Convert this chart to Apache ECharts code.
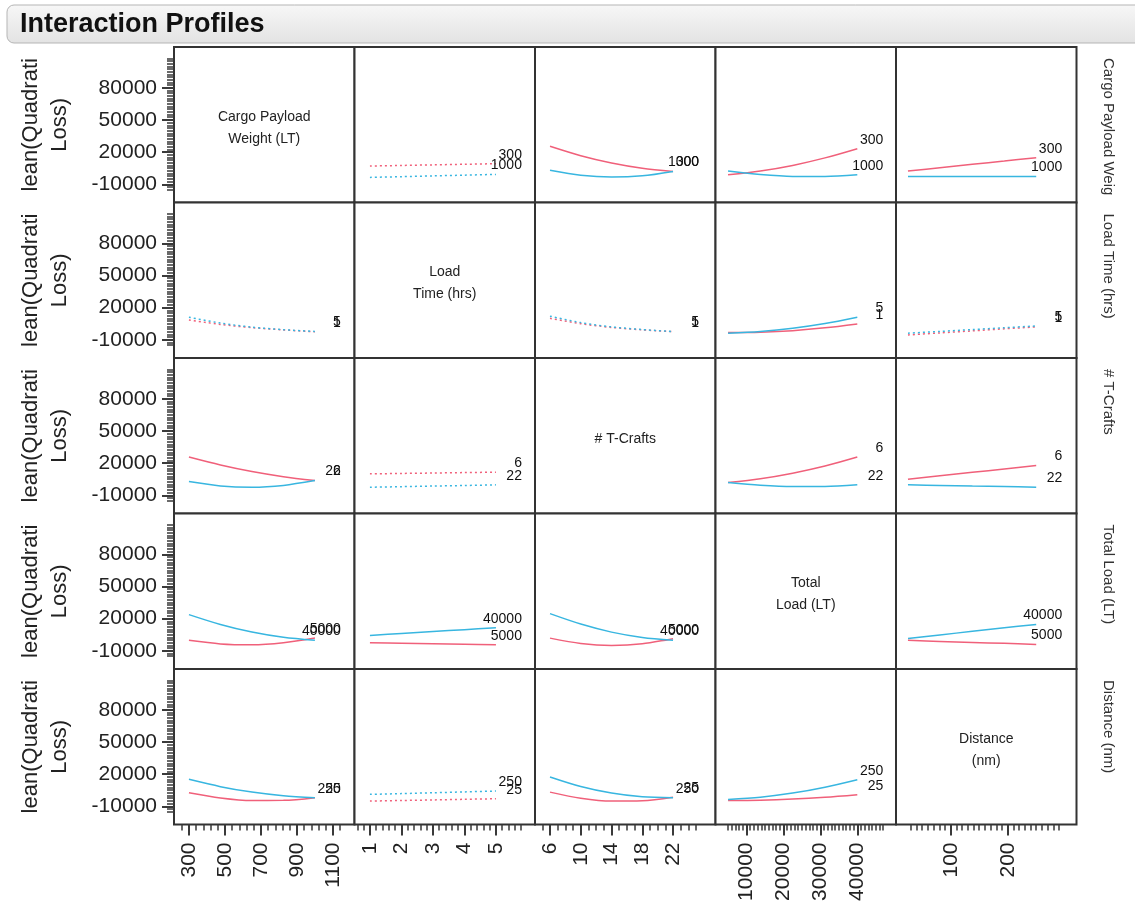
<!DOCTYPE html>
<html><head><meta charset="utf-8">
<script src="https://cdn.jsdelivr.net/npm/echarts@6/dist/echarts.min.js"></script>
<style>html,body{margin:0;padding:0;background:#fff}#c{width:1135px;height:903px}</style>
</head><body><div id="c"></div>
<script>
// ---------- data ----------
const diagLabels = ['Cargo Payload\nWeight (LT)', 'Load\nTime (hrs)', '# T-Crafts', 'Total\nLoad (LT)', 'Distance\n(nm)'];
const rowLabels = ['Cargo Payload Weig', 'Load Time (hrs)', '# T-Crafts', 'Total Load (LT)', 'Distance (nm)'];
const yTitle = 'lean(Quadrati\nLoss)';
const levels = [[300, 1000], [1, 5], [6, 22], [5000, 40000], [25, 250]];
const xProfiles = [
  [300, 475, 650, 825, 1000],
  [1, 2, 3, 4, 5],
  [6, 10, 14, 18, 22],
  [5000, 13750, 22500, 31250, 40000],
  [25, 81, 138, 194, 250]
];
const xRanges = [[217, 1220], [0.51, 6.24], [4.05, 27.52], [1600, 50480], [4, 320.7]];
const xTickLabels = [[300, 500, 700, 900, 1100], [1, 2, 3, 4, 5], [6, 10, 14, 18, 22], [10000, 20000, 30000, 40000], [100, 200]];
const xMinorTickSpecs = [[260, 1140, 40], [0.6, 5.8, 0.2], [5, 25, 1], [5000, 47000, 1000], [30, 290, 10]];
const yRange = [-27000, 118000];
const yTickLabels = [-10000, 20000, 50000, 80000];
const yMinorTickSpec = [-15000, 107500, 2500];
const dottedCells = [[0, 1], [1, 0], [1, 2], [1, 4], [2, 1], [4, 1]];

// profiles: row r = factor held at low/high level, entry c = profile along factor c
const row1Low  = [null, [7000,7550,8100,8650,9200], [25400,16600,9800,4900,2000], [-1100,2400,7600,14600,23200], [2300,5400,8600,11700,14800]];
const row1High = [null, [-3600,-2900,-2200,-1500,-800], [3000,-1600,-3300,-2100,2000], [2300,-1000,-2700,-2700,-1100], [-2700,-2700,-2700,-2700,-2700]];
const row2Low  = [[8500,4300,1300,-800,-2600], null, [10000,5000,1500,-700,-2500], [-3300,-2900,-1500,1100,4800], [-5500,-3600,-1700,200,2000]];
const row2High = [[11000,5600,1800,-600,-2200], null, [12000,6000,2000,-500,-2300], [-3900,-2200,800,5200,11100], [-3900,-2200,-500,1200,2900]];
const row3Low  = [[25600,18200,12100,7300,3700], [9950,10350,10750,11150,11550], null, [1800,5400,10600,17300,25600], [5000,8200,11400,14500,17700]];
const row3High = [[2750,-1300,-2500,-800,3700], [-2500,-2000,-1400,-900,-300], null, [1800,-700,-1900,-1800,-300], [-300,-800,-1400,-1900,-2500]];
const row4Low  = [[-300,-3600,-4400,-2500,1800], [-2500,-3000,-3400,-3900,-4400], [1800,-3200,-5000,-3500,1300], null, [-300,-1300,-2200,-3100,-4100]];
const row4High = [[23700,14500,7400,2500,-300], [4300,6100,7900,9700,11500], [24600,14900,7400,2400,-300], null, [1500,4800,8100,11400,14600]];
const row5Low  = [[2700,-2200,-4600,-4500,-2000], [-5200,-4600,-4100,-3500,-3000], [3200,-2500,-5200,-4900,-1500], [-4600,-4300,-3300,-1600,800], null];
const row5High = [[15100,8300,3200,-200,-2000], [1100,1800,2600,3400,4200], [17300,8400,2300,-1200,-2000], [-3600,-1500,2300,7800,14800], null];
const lowRows = [row1Low, row2Low, row3Low, row4Low, row5Low];
const highRows = [row1High, row2High, row3High, row4High, row5High];

// ---------- layout / style ----------
const L0 = 174, CW = 180.5, T0 = 47, RH = 155.5;
const RED = '#F0607A', BLUE = '#38B6E0';
const FONT = '"Liberation Sans", Arial, sans-serif';
const tickCol = '#3a3a3a';
const plain = v => String(v);

function stepValues(spec) {
  const out = [];
  const n = Math.round((spec[1] - spec[0]) / spec[2]);
  for (let i = 0; i <= n; i++) out.push(+(spec[0] + i * spec[2]).toFixed(6));
  return out;
}

const grids = [], xAxes = [], yAxes = [], series = [], graphics = [];
const N = 5;
for (let r = 0; r < N; r++) {
  for (let c = 0; c < N; c++) {
    const idx = r * N + c;
    grids.push({left: L0 + c * CW, top: T0 + r * RH, width: CW, height: RH, show: true,
      borderColor: '#333', borderWidth: 2, backgroundColor: '#fff', outerBoundsMode: 'none', containLabel: false});
    const showX = r === N - 1, showY = c === 0;
    xAxes.push({gridIndex: idx, type: 'value', position: 'bottom', min: xRanges[c][0], max: xRanges[c][1], show: showX,
      axisLine: {show: false, onZero: false}, splitLine: {show: false},
      axisTick: {show: true, length: 11, customValues: xTickLabels[c], lineStyle: {color: tickCol, width: 2}},
      axisLabel: {show: true, customValues: xTickLabels[c], formatter: plain, rotate: 90, margin: 18, fontSize: 21, fontFamily: FONT, color: '#222'}});
    yAxes.push({gridIndex: idx, type: 'value', position: 'left', min: yRange[0], max: yRange[1], show: showY,
      axisLine: {show: false, onZero: false}, splitLine: {show: false},
      axisTick: {show: true, length: 12, customValues: yTickLabels, lineStyle: {color: tickCol, width: 2}},
      axisLabel: {show: true, customValues: yTickLabels, formatter: plain, margin: 17, fontSize: 21, fontFamily: FONT, color: '#222'}});

    if (r === c) {
      graphics.push({type: 'text', x: L0 + c * CW + CW / 2, y: T0 + r * RH + RH / 2 + 3, z: 10,
        style: {text: diagLabels[c], font: '14px ' + FONT, fill: '#222', align: 'center', verticalAlign: 'middle', lineHeight: 22}});
      continue;
    }
    const dotted = dottedCells.some(d => d[0] === r && d[1] === c);
    const lt = dotted ? [2, 3] : 'solid';
    const low = lowRows[r][c], high = highRows[r][c];
    const xs = xProfiles[c];
    series.push({type: 'line', xAxisIndex: idx, yAxisIndex: idx, data: xs.map((x, i) => [x, low[i]]),
      symbol: 'none', smooth: 0.3, silent: true, lineStyle: {color: RED, width: 1.5, type: lt}});
    series.push({type: 'line', xAxisIndex: idx, yAxisIndex: idx, data: xs.map((x, i) => [x, high[i]]),
      symbol: 'none', smooth: 0.3, silent: true, lineStyle: {color: BLUE, width: 1.5, type: lt}});
    const xe = xs[xs.length - 1];
    series.push({type: 'scatter', xAxisIndex: idx, yAxisIndex: idx, silent: true, z: 5,
      data: [[xe, low[low.length - 1], levels[r][0]], [xe, high[high.length - 1], levels[r][1]]],
      symbolSize: 0, itemStyle: {color: 'rgba(0,0,0,0)'},
      label: {show: true, position: [26, -9], align: 'right', verticalAlign: 'middle', opacity: 1,
        formatter: p => String(p.data[2]), fontSize: 14, fontFamily: FONT, color: '#111'}});
  }
}
// minor tick grids (bottom row x, left column y)
for (let c = 0; c < N; c++) {
  const gi = grids.length;
  grids.push({left: L0 + c * CW, top: T0 + (N - 1) * RH, width: CW, height: RH, show: false, outerBoundsMode: 'none'});
  xAxes.push({gridIndex: gi, type: 'value', position: 'bottom', min: xRanges[c][0], max: xRanges[c][1],
    axisLine: {show: false, onZero: false}, splitLine: {show: false}, axisLabel: {show: false},
    axisTick: {show: true, length: 6, customValues: stepValues(xMinorTickSpecs[c]), lineStyle: {color: tickCol, width: 1.5}}});
  yAxes.push({gridIndex: gi, type: 'value', min: yRange[0], max: yRange[1], show: false, axisLine: {onZero: false}});
}
for (let r = 0; r < N; r++) {
  const gi = grids.length;
  grids.push({left: L0, top: T0 + r * RH, width: CW, height: RH, show: false, outerBoundsMode: 'none'});
  xAxes.push({gridIndex: gi, type: 'value', min: 0, max: 1, show: false, axisLine: {onZero: false}});
  yAxes.push({gridIndex: gi, type: 'value', position: 'left', min: yRange[0], max: yRange[1],
    axisLine: {show: false, onZero: false}, splitLine: {show: false}, axisLabel: {show: false},
    axisTick: {show: true, length: 7, customValues: stepValues(yMinorTickSpec), lineStyle: {color: tickCol, width: 1.5}}});
  // y title and right row label
  graphics.push({type: 'text', x: 45, y: T0 + r * RH + RH / 2, rotation: Math.PI / 2,
    style: {text: yTitle, font: '22px ' + FONT, fill: '#222', align: 'center', verticalAlign: 'middle', lineHeight: 29}});
  graphics.push({type: 'text', x: 1108, y: T0 + r * RH + 11, rotation: -Math.PI / 2,
    style: {text: rowLabels[r], font: '15px ' + FONT, fill: '#333', align: 'left', verticalAlign: 'middle'}});
}
// title bar
graphics.push({type: 'rect', shape: {x: 7, y: 5, width: 1145, height: 38, r: 7}, z: 0,
  style: {fill: new echarts.graphic.LinearGradient(0, 0, 0, 1, [{offset: 0, color: '#f7f7f7'}, {offset: 1, color: '#e3e3e3'}]), stroke: '#b5b5b5', lineWidth: 1}});
graphics.push({type: 'text', x: 20, y: 25, z: 1,
  style: {text: 'Interaction Profiles', font: 'bold 27px ' + FONT, fill: '#111', align: 'left', verticalAlign: 'middle'}});

const chart = echarts.init(document.getElementById('c'), null, {renderer: 'canvas'});
chart.setOption({animation: false, backgroundColor: '#fff', grid: grids, xAxis: xAxes, yAxis: yAxes, series: series, graphic: graphics});
</script></body></html>
